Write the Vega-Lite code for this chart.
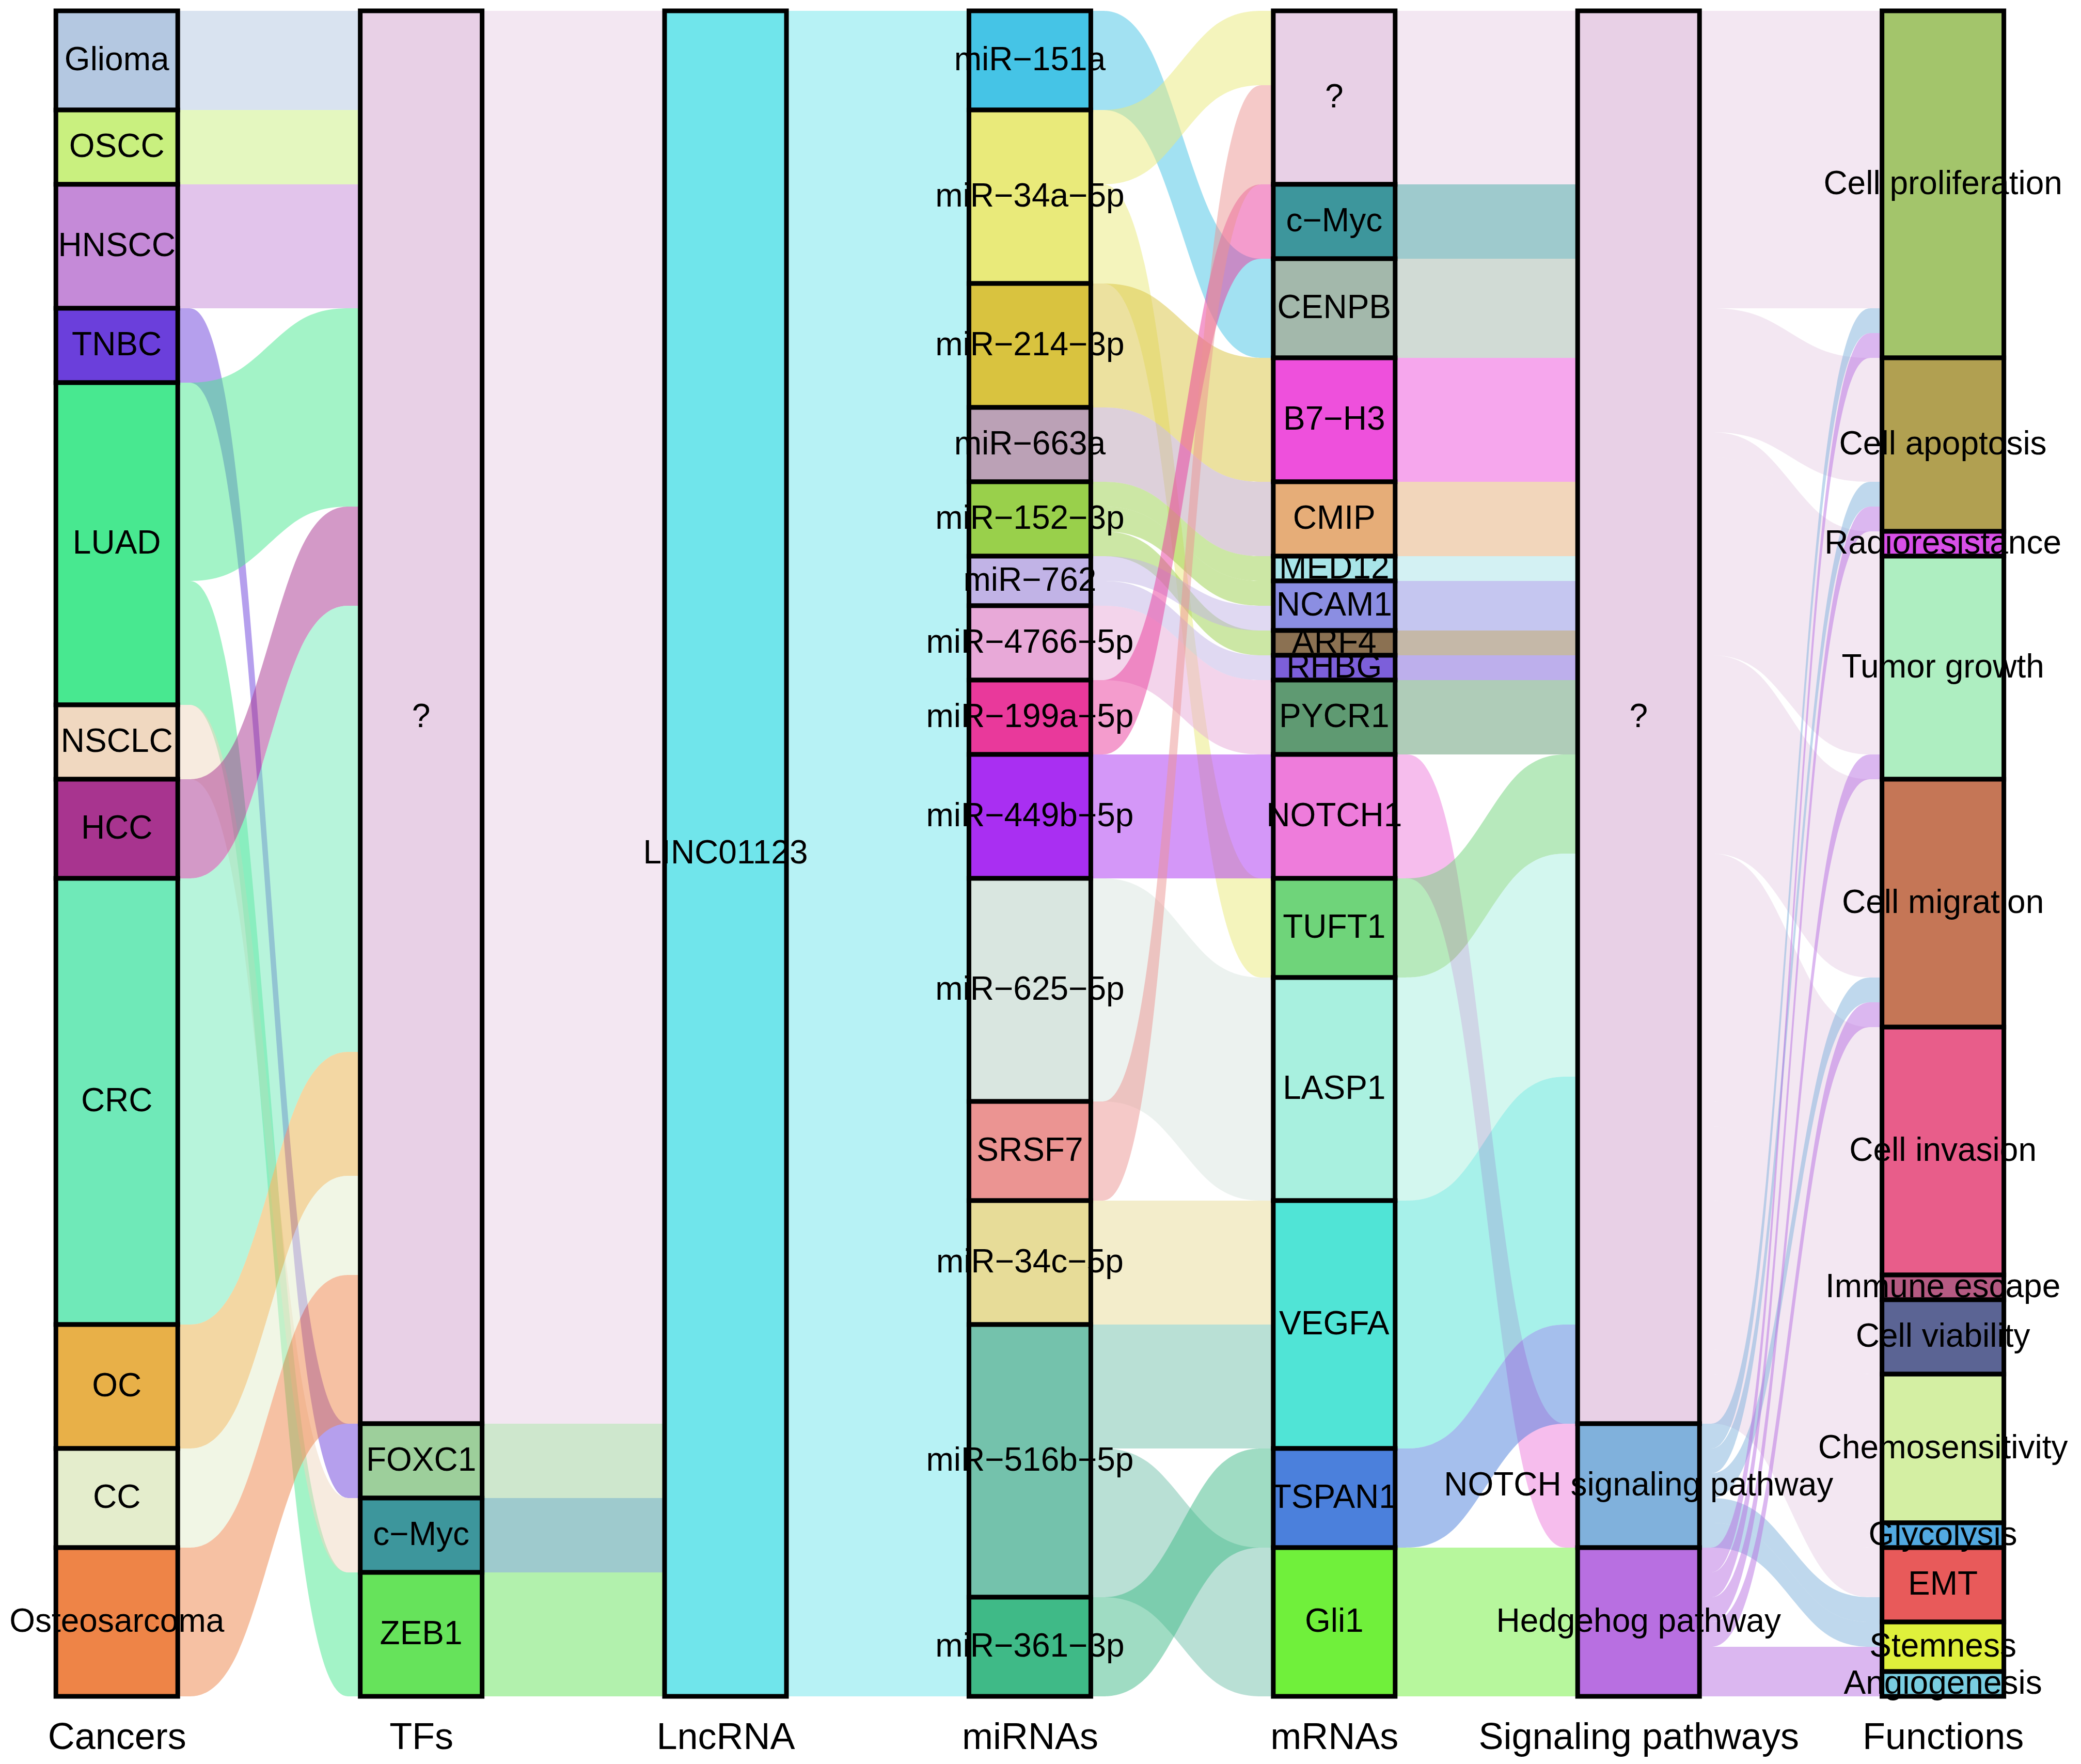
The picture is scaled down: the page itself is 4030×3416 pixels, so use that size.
{
  "$schema": "https://vega.github.io/schema/vega-lite/v6.json",
  "width": 4030,
  "height": 3264,
  "autosize": {"type": "none"},
  "padding": {"left": 0, "top": 21, "right": 0, "bottom": 131},
  "background": "white",
  "config": {"view": {"stroke": null}},
  "datasets": {
    "slots": [
      {"gap": 0, "sa": "Cancers·1", "sb": "Cancers·2", "sc": "Cancers·3", "sd": "Cancers·4"},
      {"gap": 1, "sa": "TFs·1", "sb": "TFs·2", "sc": "TFs·3", "sd": "TFs·4"},
      {"gap": 2, "sa": "LncRNA·1", "sb": "LncRNA·2", "sc": "LncRNA·3", "sd": "LncRNA·4"},
      {"gap": 3, "sa": "miRNAs·1", "sb": "miRNAs·2", "sc": "miRNAs·3", "sd": "miRNAs·4"},
      {"gap": 4, "sa": "mRNAs·1", "sb": "mRNAs·2", "sc": "mRNAs·3", "sd": "mRNAs·4"},
      {"gap": 5, "sa": "Signaling pathways·1", "sb": "Signaling pathways·2", "sc": "Signaling pathways·3", "sd": "Signaling pathways·4"}
    ],
    "strata": [
      {"axis": "Cancers", "name": "Glioma", "n": 4, "ord": 1},
      {"axis": "Cancers", "name": "OSCC", "n": 3, "ord": 2},
      {"axis": "Cancers", "name": "HNSCC", "n": 5, "ord": 3},
      {"axis": "Cancers", "name": "TNBC", "n": 3, "ord": 4},
      {"axis": "Cancers", "name": "LUAD", "n": 13, "ord": 5},
      {"axis": "Cancers", "name": "NSCLC", "n": 3, "ord": 6},
      {"axis": "Cancers", "name": "HCC", "n": 4, "ord": 7},
      {"axis": "Cancers", "name": "CRC", "n": 18, "ord": 8},
      {"axis": "Cancers", "name": "OC", "n": 5, "ord": 9},
      {"axis": "Cancers", "name": "CC", "n": 4, "ord": 10},
      {"axis": "Cancers", "name": "Osteosarcoma", "n": 6, "ord": 11},
      {"axis": "TFs", "name": "?", "n": 57, "ord": 1},
      {"axis": "TFs", "name": "FOXC1", "n": 3, "ord": 2},
      {"axis": "TFs", "name": "c−Myc", "n": 3, "ord": 3},
      {"axis": "TFs", "name": "ZEB1", "n": 5, "ord": 4},
      {"axis": "LncRNA", "name": "LINC01123", "n": 68, "ord": 1},
      {"axis": "miRNAs", "name": "miR−151a", "n": 4, "ord": 1},
      {"axis": "miRNAs", "name": "miR−34a−5p", "n": 7, "ord": 2},
      {"axis": "miRNAs", "name": "miR−214−3p", "n": 5, "ord": 3},
      {"axis": "miRNAs", "name": "miR−663a", "n": 3, "ord": 4},
      {"axis": "miRNAs", "name": "miR−152−3p", "n": 3, "ord": 5},
      {"axis": "miRNAs", "name": "miR−762", "n": 2, "ord": 6},
      {"axis": "miRNAs", "name": "miR−4766−5p", "n": 3, "ord": 7},
      {"axis": "miRNAs", "name": "miR−199a−5p", "n": 3, "ord": 8},
      {"axis": "miRNAs", "name": "miR−449b−5p", "n": 5, "ord": 9},
      {"axis": "miRNAs", "name": "miR−625−5p", "n": 9, "ord": 10},
      {"axis": "miRNAs", "name": "SRSF7", "n": 4, "ord": 11},
      {"axis": "miRNAs", "name": "miR−34c−5p", "n": 5, "ord": 12},
      {"axis": "miRNAs", "name": "miR−516b−5p", "n": 11, "ord": 13},
      {"axis": "miRNAs", "name": "miR−361−3p", "n": 4, "ord": 14},
      {"axis": "mRNAs", "name": "?", "n": 7, "ord": 1},
      {"axis": "mRNAs", "name": "c−Myc", "n": 3, "ord": 2},
      {"axis": "mRNAs", "name": "CENPB", "n": 4, "ord": 3},
      {"axis": "mRNAs", "name": "B7−H3", "n": 5, "ord": 4},
      {"axis": "mRNAs", "name": "CMIP", "n": 3, "ord": 5},
      {"axis": "mRNAs", "name": "MED12", "n": 1, "ord": 6},
      {"axis": "mRNAs", "name": "NCAM1", "n": 2, "ord": 7},
      {"axis": "mRNAs", "name": "ARF4", "n": 1, "ord": 8},
      {"axis": "mRNAs", "name": "RHBG", "n": 1, "ord": 9},
      {"axis": "mRNAs", "name": "PYCR1", "n": 3, "ord": 10},
      {"axis": "mRNAs", "name": "NOTCH1", "n": 5, "ord": 11},
      {"axis": "mRNAs", "name": "TUFT1", "n": 4, "ord": 12},
      {"axis": "mRNAs", "name": "LASP1", "n": 9, "ord": 13},
      {"axis": "mRNAs", "name": "VEGFA", "n": 10, "ord": 14},
      {"axis": "mRNAs", "name": "TSPAN1", "n": 4, "ord": 15},
      {"axis": "mRNAs", "name": "Gli1", "n": 6, "ord": 16},
      {"axis": "Signaling pathways", "name": "?", "n": 57, "ord": 1},
      {"axis": "Signaling pathways", "name": "NOTCH signaling pathway", "n": 5, "ord": 2},
      {"axis": "Signaling pathways", "name": "Hedgehog pathway", "n": 6, "ord": 3},
      {"axis": "Functions", "name": "Cell proliferation", "n": 14, "ord": 1},
      {"axis": "Functions", "name": "Cell apoptosis", "n": 7, "ord": 2},
      {"axis": "Functions", "name": "Radioresistance", "n": 1, "ord": 3},
      {"axis": "Functions", "name": "Tumor growth", "n": 9, "ord": 4},
      {"axis": "Functions", "name": "Cell migration", "n": 10, "ord": 5},
      {"axis": "Functions", "name": "Cell invasion", "n": 10, "ord": 6},
      {"axis": "Functions", "name": "Immune escape", "n": 1, "ord": 7},
      {"axis": "Functions", "name": "Cell viability", "n": 3, "ord": 8},
      {"axis": "Functions", "name": "Chemosensitivity", "n": 6, "ord": 9},
      {"axis": "Functions", "name": "Glycolysis", "n": 1, "ord": 10},
      {"axis": "Functions", "name": "EMT", "n": 3, "ord": 11},
      {"axis": "Functions", "name": "Stemness", "n": 2, "ord": 12},
      {"axis": "Functions", "name": "Angiogenesis", "n": 1, "ord": 13}
    ],
    "flows": [
      {"gap": 0, "src": "Glioma", "dst": "?", "n": 4, "so": 1, "dord": 1},
      {"gap": 0, "src": "OSCC", "dst": "?", "n": 3, "so": 2, "dord": 1},
      {"gap": 0, "src": "HNSCC", "dst": "?", "n": 5, "so": 3, "dord": 1},
      {"gap": 0, "src": "TNBC", "dst": "FOXC1", "n": 3, "so": 4, "dord": 2},
      {"gap": 0, "src": "LUAD", "dst": "?", "n": 8, "so": 5, "dord": 1},
      {"gap": 0, "src": "LUAD", "dst": "ZEB1", "n": 5, "so": 5, "dord": 4},
      {"gap": 0, "src": "NSCLC", "dst": "c−Myc", "n": 3, "so": 6, "dord": 3},
      {"gap": 0, "src": "HCC", "dst": "?", "n": 4, "so": 7, "dord": 1},
      {"gap": 0, "src": "CRC", "dst": "?", "n": 18, "so": 8, "dord": 1},
      {"gap": 0, "src": "OC", "dst": "?", "n": 5, "so": 9, "dord": 1},
      {"gap": 0, "src": "CC", "dst": "?", "n": 4, "so": 10, "dord": 1},
      {"gap": 0, "src": "Osteosarcoma", "dst": "?", "n": 6, "so": 11, "dord": 1},
      {"gap": 1, "src": "?", "dst": "LINC01123", "n": 57, "so": 1, "dord": 1},
      {"gap": 1, "src": "FOXC1", "dst": "LINC01123", "n": 3, "so": 2, "dord": 1},
      {"gap": 1, "src": "c−Myc", "dst": "LINC01123", "n": 3, "so": 3, "dord": 1},
      {"gap": 1, "src": "ZEB1", "dst": "LINC01123", "n": 5, "so": 4, "dord": 1},
      {"gap": 2, "src": "LINC01123", "dst": "miR−151a", "n": 4, "so": 1, "dord": 1},
      {"gap": 2, "src": "LINC01123", "dst": "miR−34a−5p", "n": 7, "so": 1, "dord": 2},
      {"gap": 2, "src": "LINC01123", "dst": "miR−214−3p", "n": 5, "so": 1, "dord": 3},
      {"gap": 2, "src": "LINC01123", "dst": "miR−663a", "n": 3, "so": 1, "dord": 4},
      {"gap": 2, "src": "LINC01123", "dst": "miR−152−3p", "n": 3, "so": 1, "dord": 5},
      {"gap": 2, "src": "LINC01123", "dst": "miR−762", "n": 2, "so": 1, "dord": 6},
      {"gap": 2, "src": "LINC01123", "dst": "miR−4766−5p", "n": 3, "so": 1, "dord": 7},
      {"gap": 2, "src": "LINC01123", "dst": "miR−199a−5p", "n": 3, "so": 1, "dord": 8},
      {"gap": 2, "src": "LINC01123", "dst": "miR−449b−5p", "n": 5, "so": 1, "dord": 9},
      {"gap": 2, "src": "LINC01123", "dst": "miR−625−5p", "n": 9, "so": 1, "dord": 10},
      {"gap": 2, "src": "LINC01123", "dst": "SRSF7", "n": 4, "so": 1, "dord": 11},
      {"gap": 2, "src": "LINC01123", "dst": "miR−34c−5p", "n": 5, "so": 1, "dord": 12},
      {"gap": 2, "src": "LINC01123", "dst": "miR−516b−5p", "n": 11, "so": 1, "dord": 13},
      {"gap": 2, "src": "LINC01123", "dst": "miR−361−3p", "n": 4, "so": 1, "dord": 14},
      {"gap": 3, "src": "miR−151a", "dst": "CENPB", "n": 4, "so": 1, "dord": 3},
      {"gap": 3, "src": "miR−34a−5p", "dst": "?", "n": 3, "so": 2, "dord": 1},
      {"gap": 3, "src": "miR−34a−5p", "dst": "TUFT1", "n": 4, "so": 2, "dord": 12},
      {"gap": 3, "src": "miR−214−3p", "dst": "B7−H3", "n": 5, "so": 3, "dord": 4},
      {"gap": 3, "src": "miR−663a", "dst": "CMIP", "n": 3, "so": 4, "dord": 5},
      {"gap": 3, "src": "miR−152−3p", "dst": "MED12", "n": 1, "so": 5, "dord": 6},
      {"gap": 3, "src": "miR−152−3p", "dst": "NCAM1", "n": 1, "so": 5, "dord": 7},
      {"gap": 3, "src": "miR−152−3p", "dst": "ARF4", "n": 1, "so": 5, "dord": 8},
      {"gap": 3, "src": "miR−762", "dst": "NCAM1", "n": 1, "so": 6, "dord": 7},
      {"gap": 3, "src": "miR−762", "dst": "RHBG", "n": 1, "so": 6, "dord": 9},
      {"gap": 3, "src": "miR−4766−5p", "dst": "PYCR1", "n": 3, "so": 7, "dord": 10},
      {"gap": 3, "src": "miR−199a−5p", "dst": "c−Myc", "n": 3, "so": 8, "dord": 2},
      {"gap": 3, "src": "miR−449b−5p", "dst": "NOTCH1", "n": 5, "so": 9, "dord": 11},
      {"gap": 3, "src": "miR−625−5p", "dst": "LASP1", "n": 9, "so": 10, "dord": 13},
      {"gap": 3, "src": "SRSF7", "dst": "?", "n": 4, "so": 11, "dord": 1},
      {"gap": 3, "src": "miR−34c−5p", "dst": "VEGFA", "n": 5, "so": 12, "dord": 14},
      {"gap": 3, "src": "miR−516b−5p", "dst": "VEGFA", "n": 5, "so": 13, "dord": 14},
      {"gap": 3, "src": "miR−516b−5p", "dst": "Gli1", "n": 6, "so": 13, "dord": 16},
      {"gap": 3, "src": "miR−361−3p", "dst": "TSPAN1", "n": 4, "so": 14, "dord": 15},
      {"gap": 4, "src": "?", "dst": "?", "n": 7, "so": 1, "dord": 1},
      {"gap": 4, "src": "c−Myc", "dst": "?", "n": 3, "so": 2, "dord": 1},
      {"gap": 4, "src": "CENPB", "dst": "?", "n": 4, "so": 3, "dord": 1},
      {"gap": 4, "src": "B7−H3", "dst": "?", "n": 5, "so": 4, "dord": 1},
      {"gap": 4, "src": "CMIP", "dst": "?", "n": 3, "so": 5, "dord": 1},
      {"gap": 4, "src": "MED12", "dst": "?", "n": 1, "so": 6, "dord": 1},
      {"gap": 4, "src": "NCAM1", "dst": "?", "n": 2, "so": 7, "dord": 1},
      {"gap": 4, "src": "ARF4", "dst": "?", "n": 1, "so": 8, "dord": 1},
      {"gap": 4, "src": "RHBG", "dst": "?", "n": 1, "so": 9, "dord": 1},
      {"gap": 4, "src": "PYCR1", "dst": "?", "n": 3, "so": 10, "dord": 1},
      {"gap": 4, "src": "NOTCH1", "dst": "NOTCH signaling pathway", "n": 5, "so": 11, "dord": 2},
      {"gap": 4, "src": "TUFT1", "dst": "?", "n": 4, "so": 12, "dord": 1},
      {"gap": 4, "src": "LASP1", "dst": "?", "n": 9, "so": 13, "dord": 1},
      {"gap": 4, "src": "VEGFA", "dst": "?", "n": 10, "so": 14, "dord": 1},
      {"gap": 4, "src": "TSPAN1", "dst": "?", "n": 4, "so": 15, "dord": 1},
      {"gap": 4, "src": "Gli1", "dst": "Hedgehog pathway", "n": 6, "so": 16, "dord": 3},
      {"gap": 5, "src": "?", "dst": "Cell proliferation", "n": 12, "so": 1, "dord": 1},
      {"gap": 5, "src": "?", "dst": "Cell apoptosis", "n": 5, "so": 1, "dord": 2},
      {"gap": 5, "src": "?", "dst": "Radioresistance", "n": 1, "so": 1, "dord": 3},
      {"gap": 5, "src": "?", "dst": "Tumor growth", "n": 8, "so": 1, "dord": 4},
      {"gap": 5, "src": "?", "dst": "Cell migration", "n": 8, "so": 1, "dord": 5},
      {"gap": 5, "src": "?", "dst": "Cell invasion", "n": 10, "so": 1, "dord": 6},
      {"gap": 5, "src": "?", "dst": "Immune escape", "n": 1, "so": 1, "dord": 7},
      {"gap": 5, "src": "?", "dst": "Cell viability", "n": 3, "so": 1, "dord": 8},
      {"gap": 5, "src": "?", "dst": "Chemosensitivity", "n": 6, "so": 1, "dord": 9},
      {"gap": 5, "src": "?", "dst": "Glycolysis", "n": 1, "so": 1, "dord": 10},
      {"gap": 5, "src": "?", "dst": "EMT", "n": 2, "so": 1, "dord": 11},
      {"gap": 5, "src": "NOTCH signaling pathway", "dst": "Cell proliferation", "n": 1, "so": 2, "dord": 1},
      {"gap": 5, "src": "NOTCH signaling pathway", "dst": "Cell apoptosis", "n": 1, "so": 2, "dord": 2},
      {"gap": 5, "src": "NOTCH signaling pathway", "dst": "Cell migration", "n": 1, "so": 2, "dord": 5},
      {"gap": 5, "src": "NOTCH signaling pathway", "dst": "EMT", "n": 1, "so": 2, "dord": 11},
      {"gap": 5, "src": "NOTCH signaling pathway", "dst": "Stemness", "n": 1, "so": 2, "dord": 12},
      {"gap": 5, "src": "Hedgehog pathway", "dst": "Cell proliferation", "n": 1, "so": 3, "dord": 1},
      {"gap": 5, "src": "Hedgehog pathway", "dst": "Cell apoptosis", "n": 1, "so": 3, "dord": 2},
      {"gap": 5, "src": "Hedgehog pathway", "dst": "Tumor growth", "n": 1, "so": 3, "dord": 4},
      {"gap": 5, "src": "Hedgehog pathway", "dst": "Cell migration", "n": 1, "so": 3, "dord": 5},
      {"gap": 5, "src": "Hedgehog pathway", "dst": "Stemness", "n": 1, "so": 3, "dord": 12},
      {"gap": 5, "src": "Hedgehog pathway", "dst": "Angiogenesis", "n": 1, "so": 3, "dord": 13}
    ]
  },
  "encoding": {
    "x": {
      "type": "ordinal",
      "scale": {
        "type": "point",
        "domain": ["·start","Cancers","Cancers·1","Cancers·2","Cancers·3","Cancers·4","TFs","TFs·1","TFs·2","TFs·3","TFs·4","LncRNA","LncRNA·1","LncRNA·2","LncRNA·3","LncRNA·4","miRNAs","miRNAs·1","miRNAs·2","miRNAs·3","miRNAs·4","mRNAs","mRNAs·1","mRNAs·2","mRNAs·3","mRNAs·4","Signaling pathways","Signaling pathways·1","Signaling pathways·2","Signaling pathways·3","Signaling pathways·4","Functions","·end1","·end2"],
        "padding": 0.59375,
        "align": 0.774,
        "round": false
      },
      "axis": {"values": ["Cancers","TFs","LncRNA","miRNAs","mRNAs","Signaling pathways","Functions"], "labelFont": "Liberation Sans", "labelFontSize": 72, "labelColor": "black", "labelPadding": 44, "labelLimit": 2000, "labelFlush": false, "labelOverlap": false, "labelAngle": 0, "ticks": false, "domain": false, "grid": false, "title": null}
    },
    "y": {"type": "quantitative", "scale": {"domain": [0, 68], "reverse": true, "nice": false, "zero": false}, "axis": null},
    "color": {
      "type": "nominal", "legend": null,
      "scale": {
        "domain": ["Glioma","OSCC","HNSCC","TNBC","LUAD","NSCLC","HCC","CRC","OC","CC","Osteosarcoma","?","FOXC1","c−Myc","ZEB1","LINC01123","miR−151a","miR−34a−5p","miR−214−3p","miR−663a","miR−152−3p","miR−762","miR−4766−5p","miR−199a−5p","miR−449b−5p","miR−625−5p","SRSF7","miR−34c−5p","miR−516b−5p","miR−361−3p","CENPB","B7−H3","CMIP","MED12","NCAM1","ARF4","RHBG","PYCR1","NOTCH1","TUFT1","LASP1","VEGFA","TSPAN1","Gli1","NOTCH signaling pathway","Hedgehog pathway","Cell proliferation","Cell apoptosis","Radioresistance","Tumor growth","Cell migration","Cell invasion","Immune escape","Cell viability","Chemosensitivity","Glycolysis","EMT","Stemness","Angiogenesis"],
        "range": ["#b4c8e1","#c9f07f","#c58ad8","#6b3fdb","#48e890","#f0d8c0","#a8348f","#6fe9b8","#e8b048","#e4edcc","#ee8447","#e8d0e6","#9dcf9b","#3d969c","#66e35b","#70e5eb","#45c4e6","#e9ea7a","#d9c33f","#bba1b6","#99d04b","#c1b3e6","#e8a9d8","#e9399b","#a92ff2","#d9e6e0","#eb9492","#e7dc98","#74c2ac","#3fba87","#a3b8ab","#ee50dc","#e6ad78","#a8e4e8","#8b8ee2","#8b7152","#7c5fda","#5f9a72","#ee7cdb","#6fd47a","#a8f0df","#50e4d6","#4b80dc","#70f03b","#80b1dc","#b86fe1","#a3c56b","#b1a051","#d84fe8","#aeeec1","#c57656","#e85d8a","#b55a82","#5b6494","#d4efa3","#52a9e1","#e85a5a","#dff03b","#79cde1"]
      }
    }
  },
  "layer": [
    {
      "data": {"name": "flows"},
      "transform": [
        {"stack": "n", "groupby": ["gap"], "sort": [{"field": "so"}, {"field": "dord"}], "as": ["a0", "a1"]},
        {"stack": "n", "groupby": ["gap"], "sort": [{"field": "so"}, {"field": "dord"}], "as": ["b0", "b1"]},
        {"stack": "n", "groupby": ["gap"], "sort": [{"field": "dord"}, {"field": "so"}], "as": ["c0", "c1"]},
        {"stack": "n", "groupby": ["gap"], "sort": [{"field": "dord"}, {"field": "so"}], "as": ["d0", "d1"]},
        {"lookup": "gap", "from": {"data": {"name": "slots"}, "key": "gap", "fields": ["sa", "sb", "sc", "sd"]}},
        {"fold": ["sa", "sb", "sc", "sd"], "as": ["ks", "slot"]},
        {"fold": ["a0", "b0", "c0", "d0"], "as": ["k0", "lower"]},
        {"fold": ["a1", "b1", "c1", "d1"], "as": ["k1", "upper"]},
        {"filter": "substring(datum.ks, 1, 2) === substring(datum.k0, 0, 1) && substring(datum.k0, 0, 1) === substring(datum.k1, 0, 1)"}
      ],
      "mark": {"type": "area", "interpolate": "basis", "fillOpacity": 0.5},
      "encoding": {
        "x": {"field": "slot", "type": "ordinal"},
        "y": {"field": "lower", "type": "quantitative"},
        "y2": {"field": "upper"},
        "detail": {"field": "dst", "type": "nominal"},
        "color": {"field": "src", "type": "nominal"}
      }
    },
    {
      "data": {"name": "strata"},
      "transform": [
        {"stack": "n", "groupby": ["axis"], "sort": [{"field": "ord"}], "as": ["lo", "hi"]}
      ],
      "mark": {"type": "bar", "width": 236, "stroke": "black", "strokeWidth": 9, "fillOpacity": 1},
      "encoding": {
        "x": {"field": "axis", "type": "ordinal"},
        "y": {"field": "lo", "type": "quantitative"},
        "y2": {"field": "hi"},
        "color": {"field": "name", "type": "nominal"}
      }
    },
    {
      "data": {"name": "strata"},
      "transform": [
        {"stack": "n", "groupby": ["axis"], "sort": [{"field": "ord"}], "as": ["lo", "hi"]},
        {"fold": ["lo", "hi"], "as": ["edge", "pos"]},
        {"aggregate": [{"op": "mean", "field": "pos", "as": "mid"}], "groupby": ["axis", "name"]}
      ],
      "mark": {"type": "text", "font": "Liberation Sans", "fontSize": 64, "color": "black", "baseline": "middle", "align": "center"},
      "encoding": {
        "x": {"field": "axis", "type": "ordinal"},
        "y": {"field": "mid", "type": "quantitative"},
        "text": {"field": "name"}
      }
    }
  ]
}
